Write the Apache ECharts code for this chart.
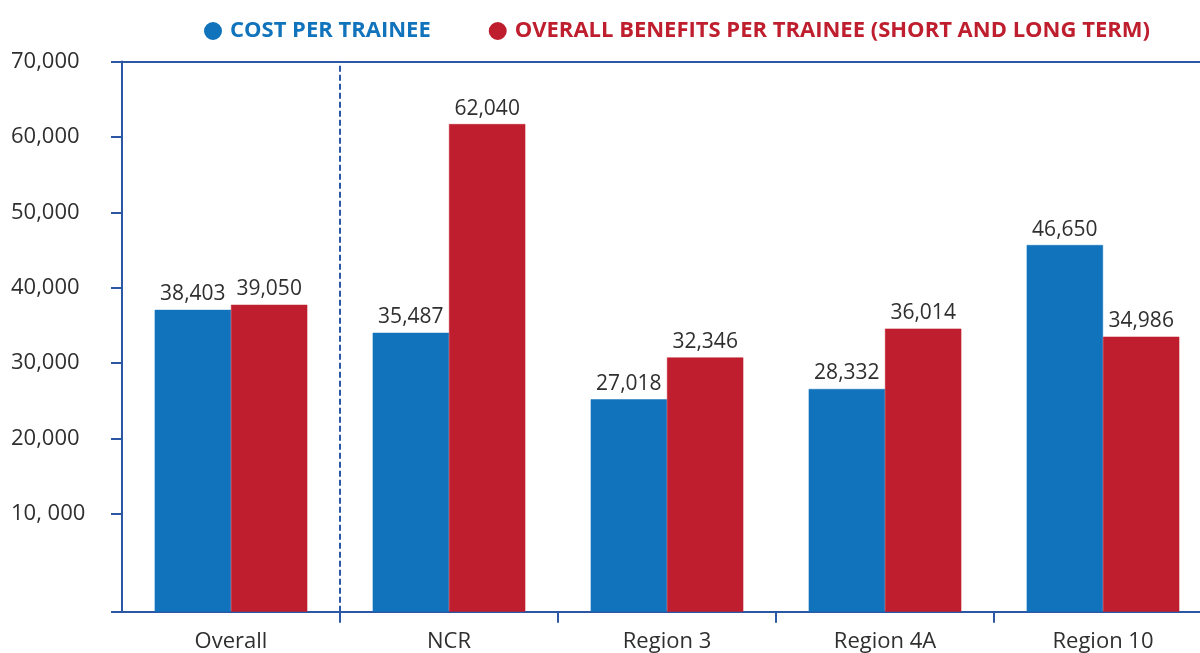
<!DOCTYPE html>
<html>
<head>
<meta charset="utf-8">
<title>Cost and benefits per trainee</title>
<script src="https://cdn.jsdelivr.net/npm/echarts@6/dist/echarts.min.js"></script>
<style>
  html, body { margin: 0; padding: 0; background: #ffffff; overflow: hidden; }
  /* el eje X continúa un poco más allá del borde derecho */
  #chart { width: 1212px; height: 653px; }
</style>
</head>
<body>
<div id="chart"></div>
<script>
// Datos del gráfico
const categories = ['Overall', 'NCR', 'Region 3', 'Region 4A', 'Region 10'];
const costPerTrainee = [38403, 35487, 27018, 28332, 46650];
const benefitsPerTrainee = [39050, 62040, 32346, 36014, 34986];
const tickLabels = ['10, 000', '20,000', '30,000', '40,000', '50,000', '60,000', '70,000'];
// separador punteado entre "Overall" y las regiones (límite de categoría)
const separatorAt = 1;

const seriesNames = ['COST PER TRAINEE', 'OVERALL BENEFITS PER TRAINEE (SHORT AND LONG TERM)'];

const BLUE = '#1173bb';
const RED = '#be1e2d';
const AXIS = '#2b57a5';
const TEXT = '#2f2f2f';
const FONT = '"Open Sans", "Noto Sans", sans-serif';

const chart = echarts.init(document.getElementById('chart'));

const barLabel = {
    show: true,
    position: 'top',
    distance: 5,
    color: TEXT,
    fontSize: 21,
    fontFamily: FONT,
    formatter: p => p.value.toLocaleString('en-US')
};

chart.setOption({
    animation: false,
    backgroundColor: '#ffffff',
    textStyle: { fontFamily: FONT },
    legend: {
        left: 204,
        top: 20,
        padding: 0,
        itemWidth: 16,
        itemHeight: 16,
        itemGap: 58,
        icon: 'circle',
        data: [
            { name: seriesNames[0], textStyle: { color: BLUE } },
            { name: seriesNames[1], textStyle: { color: RED } }
        ],
        textStyle: {
            fontSize: 22,
            fontWeight: 'bold',
            fontFamily: FONT,
            padding: [0, 0, 0, 4]
        }
    },
    grid: [
        // barras
        { left: 122, right: 0, top: 61.5, bottom: 41.3 },
        // etiquetas del eje Y
        { left: 122, right: 0, top: 61.5, bottom: 139 }
    ],
    xAxis: [
        {
            gridIndex: 0,
            type: 'category',
            data: categories,
            axisLine: { onZero: false, lineStyle: { color: AXIS, width: 2 } },
            axisTick: {
                show: true,
                length: 11,
                interval: i => i !== 0,
                lineStyle: { color: AXIS, width: 2 }
            },
            axisLabel: {
                color: TEXT,
                fontSize: 22,
                fontFamily: FONT,
                margin: 19
            },
            splitLine: { show: false }
        },
        {
            gridIndex: 1,
            type: 'category',
            data: categories,
            position: 'top',
            axisLine: { onZero: false, lineStyle: { color: AXIS, width: 2 } },
            axisTick: { show: false },
            axisLabel: { show: false },
            splitLine: { show: false }
        },
        {
            // eje auxiliar para ubicar el separador en límites de categoría
            gridIndex: 0,
            type: 'value',
            min: 0,
            max: categories.length,
            show: false
        }
    ],
    yAxis: [
        {
            gridIndex: 0,
            type: 'value',
            min: 0,
            max: 70000,
            interval: 70000,
            axisLine: { show: true, lineStyle: { color: AXIS, width: 2 } },
            axisTick: { show: true, length: 11, lineStyle: { color: AXIS, width: 2 } },
            axisLabel: { show: false },
            splitLine: { show: false }
        },
        {
            gridIndex: 1,
            type: 'value',
            min: 10000,
            max: 70000,
            interval: 10000,
            axisLine: { show: false },
            axisTick: { show: true, length: 11, lineStyle: { color: AXIS, width: 2 } },
            axisLabel: {
                color: TEXT,
                fontSize: 22,
                fontFamily: FONT,
                align: 'left',
                margin: 111,
                formatter: v => tickLabels[Math.round(v / 10000) - 1]
            },
            splitLine: { show: false }
        }
    ],
    series: [
        {
            name: seriesNames[0],
            type: 'bar',
            xAxisIndex: 0,
            yAxisIndex: 0,
            data: costPerTrainee,
            barGap: '0%',
            barCategoryGap: '30%',
            itemStyle: { color: BLUE, borderColor: BLUE, borderWidth: 0.5 },
            label: barLabel
        },
        {
            name: seriesNames[1],
            type: 'bar',
            xAxisIndex: 0,
            yAxisIndex: 0,
            data: benefitsPerTrainee,
            barGap: '0%',
            barCategoryGap: '30%',
            itemStyle: { color: RED, borderColor: RED, borderWidth: 0.5 },
            label: barLabel
        },
        {
            name: 'separator',
            type: 'line',
            xAxisIndex: 2,
            yAxisIndex: 0,
            data: [[separatorAt, 0], [separatorAt, 70000]],
            symbol: 'none',
            silent: true,
            z: 1,
            lineStyle: { color: AXIS, width: 2, type: [6, 3] }
        }
    ]
});

window.addEventListener('resize', () => chart.resize());
</script>
</body>
</html>
